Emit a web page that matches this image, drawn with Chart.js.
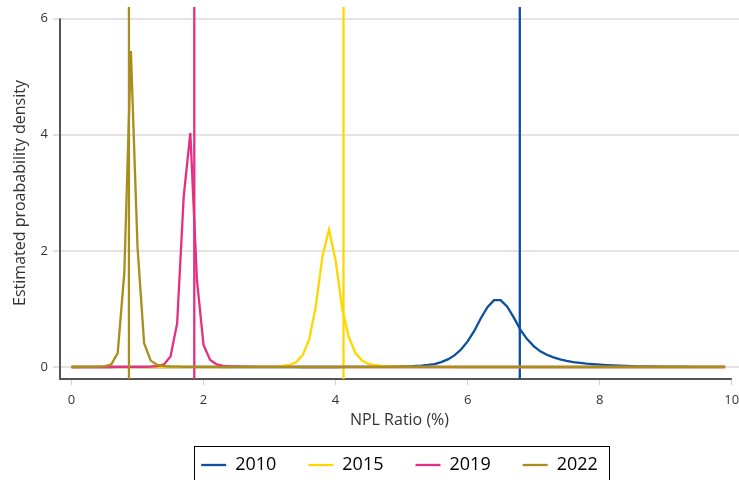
<!DOCTYPE html>
<html lang="en">
  <head>
    <meta charset="UTF-8" />
    <title>NPL Ratio density</title>
    <script src="https://cdn.jsdelivr.net/npm/chart.js"></script>
    <style>
      body {
        margin: 0;
        background: #ffffff;
      }
      .chart-container {
        position: relative;
        width: 739px;
        height: 480px;
      }
    </style>
  </head>
  <body>
    <div class="chart-container">
      <canvas id="densityChart"></canvas>
    </div>

    <script>
      const years = ["2010", "2015", "2019", "2022"];
      const colors = ["#0b4f9f", "#ffd700", "#e52f82", "#a98e1d"];

      // NPL ratio grid (%)
      const xGrid = [
        0.0, 0.1, 0.2, 0.3, 0.4, 0.5, 0.6, 0.7, 0.8, 0.9,
        1.0, 1.1, 1.2, 1.3, 1.4, 1.5, 1.6, 1.7, 1.8, 1.9,
        2.0, 2.1, 2.2, 2.3, 2.4, 2.5, 2.6, 2.7, 2.8, 2.9,
        3.0, 3.1, 3.2, 3.3, 3.4, 3.5, 3.6, 3.7, 3.8, 3.9,
        4.0, 4.1, 4.2, 4.3, 4.4, 4.5, 4.6, 4.7, 4.8, 4.9,
        5.0, 5.1, 5.2, 5.3, 5.4, 5.5, 5.6, 5.7, 5.8, 5.9,
        6.0, 6.1, 6.2, 6.3, 6.4, 6.5, 6.6, 6.7, 6.8, 6.9,
        7.0, 7.1, 7.2, 7.3, 7.4, 7.5, 7.6, 7.7, 7.8, 7.9,
        8.0, 8.1, 8.2, 8.3, 8.4, 8.5, 8.6, 8.7, 8.8, 8.9,
        9.0, 9.1, 9.2, 9.3, 9.4, 9.5, 9.6, 9.7, 9.8, 9.9,
      ];

      const density2010 = [
        0, 0, 0, 0, 0, 0, 0, 0, 0, 0,
        0, 0, 0, 0, 0, 0, 0, 0, 0, 0,
        0, 0, 0, 0, 0, 0, 0, 0, 0, 0,
        0, 0, 0, 0, 0, 0, 0, 0, 0, 0,
        0, 0.001, 0.001, 0.002, 0.002, 0.003, 0.004, 0.005, 0.007, 0.009,
        0.011, 0.014, 0.018, 0.025, 0.035, 0.05, 0.085, 0.13, 0.2, 0.3,
        0.44, 0.62, 0.84, 1.03, 1.15, 1.15, 1.04, 0.85, 0.64, 0.48,
        0.36, 0.27, 0.21, 0.165, 0.13, 0.105, 0.085, 0.07, 0.057, 0.047,
        0.039, 0.032, 0.027, 0.022, 0.018, 0.015, 0.012, 0.01, 0.008, 0.007,
        0.006, 0.005, 0.004, 0.004, 0.003, 0.003, 0.002, 0.002, 0.002, 0.001,
      ];

      const density2015 = [
        0, 0, 0, 0, 0, 0, 0, 0, 0, 0,
        0, 0, 0, 0, 0, 0, 0, 0, 0, 0,
        0, 0, 0, 0, 0, 0.001, 0.001, 0.002, 0.002, 0.004,
        0.006, 0.01, 0.018, 0.035, 0.08, 0.2, 0.47, 1.04, 1.9, 2.37,
        1.84, 1.0, 0.52, 0.24, 0.11, 0.055, 0.03, 0.018, 0.012, 0.008,
        0.005, 0.004, 0.003, 0.002, 0.002, 0.001, 0.001, 0.001, 0, 0,
        0, 0, 0, 0, 0, 0, 0, 0, 0, 0,
        0, 0, 0, 0, 0, 0, 0, 0, 0, 0,
        0, 0, 0, 0, 0, 0, 0, 0, 0, 0,
        0, 0, 0, 0, 0, 0, 0, 0, 0, 0,
      ];

      const density2019 = [
        0, 0, 0, 0, 0, 0, 0, 0.001, 0.001, 0.002,
        0.002, 0.003, 0.006, 0.015, 0.045, 0.18, 0.75, 2.94, 4.03, 1.5,
        0.38, 0.12, 0.045, 0.02, 0.012, 0.008, 0.005, 0.004, 0.003, 0.002,
        0.002, 0.001, 0.001, 0.001, 0.001, 0, 0, 0, 0, 0,
        0, 0, 0, 0, 0, 0, 0, 0, 0, 0,
        0, 0, 0, 0, 0, 0, 0, 0, 0, 0,
        0, 0, 0, 0, 0, 0, 0, 0, 0, 0,
        0, 0, 0, 0, 0, 0, 0, 0, 0, 0,
        0, 0, 0, 0, 0, 0, 0, 0, 0, 0,
        0, 0, 0, 0, 0, 0, 0, 0, 0, 0,
      ];

      const density2022 = [
        0, 0, 0.001, 0.002, 0.005, 0.012, 0.04, 0.24, 1.62, 5.44,
        2.07, 0.41, 0.11, 0.035, 0.015, 0.008, 0.005, 0.003, 0.002, 0.002,
        0.001, 0.001, 0.001, 0, 0, 0, 0, 0, 0, 0,
        0, 0, 0, 0, 0, 0, 0, 0, 0, 0,
        0, 0, 0, 0, 0, 0, 0, 0, 0, 0,
        0, 0, 0, 0, 0, 0, 0, 0, 0, 0,
        0, 0, 0, 0, 0, 0, 0, 0, 0, 0,
        0, 0, 0, 0, 0, 0, 0, 0, 0, 0,
        0, 0, 0, 0, 0, 0, 0, 0, 0, 0,
        0, 0, 0, 0, 0, 0, 0, 0, 0, 0,
      ];

      // vertical reference lines (mean NPL ratio per year)
      const means = [6.79, 4.12, 1.86, 0.87];

      const xTicks = [0, 2, 4, 6, 8, 10];
      const yTicks = [0, 2, 4, 6];
      const xMin = -0.174, xMax = 10.11;
      const yMin = -0.207, yMax = 6.2;

      const densities = [density2010, density2015, density2019, density2022];

      const curveSets = years.map((year, i) => ({
        label: year,
        data: xGrid.map((x, j) => ({ x: x, y: densities[i][j] })),
        borderColor: colors[i],
        backgroundColor: colors[i],
        borderWidth: 2.3,
        pointRadius: 0,
        tension: 0,
        order: 8 - i * 2,
      }));

      const meanSets = years.map((year, i) => ({
        label: year + " mean",
        data: [
          { x: means[i], y: yMin },
          { x: means[i], y: yMax },
        ],
        borderColor: colors[i],
        borderWidth: 2.3,
        pointRadius: 0,
        order: 7 - i * 2,
      }));

      const font = "'Open Sans', sans-serif";

      // axis lines stop at the last tick; box drawn around the legend
      const framePlugin = {
        id: "frame",
        beforeDatasetsDraw(chart) {
          const { ctx, chartArea, scales } = chart;
          ctx.save();
          ctx.strokeStyle = "#555555";
          ctx.lineWidth = 2;
          ctx.beginPath();
          ctx.moveTo(chartArea.left, scales.y.getPixelForValue(yTicks[yTicks.length - 1]));
          ctx.lineTo(chartArea.left, chartArea.bottom);
          ctx.lineTo(scales.x.getPixelForValue(xTicks[xTicks.length - 1]), chartArea.bottom);
          ctx.stroke();
          ctx.restore();
        },
        afterDraw(chart) {
          const boxes = chart.legend.legendHitBoxes;
          if (!boxes || !boxes.length) return;
          const last = boxes[boxes.length - 1];
          const left = Math.round(boxes[0].left - 7) + 0.5;
          const right = Math.round(last.left + last.width + 11) + 0.5;
          const top = Math.round(boxes[0].top - 10) + 0.5;
          const ctx = chart.ctx;
          ctx.save();
          ctx.strokeStyle = "#000000";
          ctx.lineWidth = 1;
          ctx.strokeRect(left, top, right - left, chart.height + 10 - top);
          ctx.restore();
        },
      };

      const ctx = document.getElementById("densityChart").getContext("2d");
      new Chart(ctx, {
        type: "line",
        data: { datasets: [...curveSets, ...meanSets] },
        options: {
          responsive: true,
          maintainAspectRatio: false,
          animation: false,
          layout: { padding: { top: 7, right: 0, left: 0, bottom: -4 } },
          scales: {
            x: {
              type: "linear",
              min: xMin,
              max: xMax,
              afterBuildTicks: (s) => {
                s.ticks = xTicks.map((v) => ({ value: v }));
              },
              afterFit: (s) => {
                s.height = 45;
                s.paddingLeft = 0;
                s.paddingRight = 0;
              },
              border: { display: false },
              grid: {
                drawOnChartArea: false,
                drawTicks: true,
                tickLength: 6,
                tickColor: "#d0d0d0",
                tickWidth: 1,
              },
              ticks: {
                padding: 7,
                color: "#333333",
                font: { family: font, size: 13 },
              },
              title: {
                display: true,
                text: "NPL Ratio (%)",
                color: "#333333",
                font: { family: font, size: 16 },
                padding: { top: 0, bottom: -5.6 },
              },
            },
            y: {
              min: yMin,
              max: yMax,
              afterBuildTicks: (s) => {
                s.ticks = yTicks.map((v) => ({ value: v }));
              },
              afterFit: (s) => {
                s.width = 60;
                s.paddingTop = 0;
                s.paddingBottom = 0;
              },
              border: { display: false },
              grid: {
                color: "#e3e3e3",
                lineWidth: 2,
                drawTicks: true,
                tickLength: 7,
                tickColor: "#e3e3e3",
              },
              ticks: {
                padding: 5,
                color: "#333333",
                font: { family: font, size: 13 },
              },
              title: {
                display: true,
                text: "Estimated proabability density",
                color: "#333333",
                font: { family: font, size: 16 },
                padding: { top: 10.4, bottom: 0 },
              },
            },
          },
          plugins: {
            legend: {
              position: "bottom",
              fullSize: false,
              labels: {
                filter: (item) => item.datasetIndex < years.length,
                sort: (a, b) => a.datasetIndex - b.datasetIndex,
                usePointStyle: true,
                pointStyle: "line",
                pointStyleWidth: 25,
                padding: 32,
                color: "#000000",
                font: { family: font, size: 18 },
              },
            },
            tooltip: { enabled: false },
          },
        },
        plugins: [framePlugin],
      });
    </script>
  </body>
</html>
